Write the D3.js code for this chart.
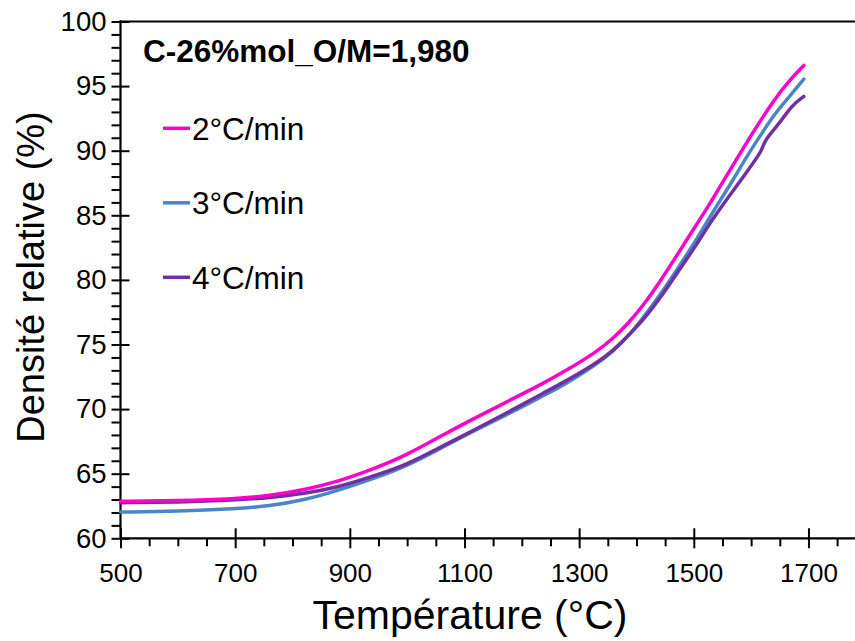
<!DOCTYPE html>
<html>
<head>
<meta charset="utf-8">
<script src="https://cdn.jsdelivr.net/npm/d3@7"></script>
<style>
  html, body { margin: 0; padding: 0; background: #ffffff; }
  svg { display: block; }
  text { font-family: "Liberation Sans", Arial, sans-serif; fill: #000; }
</style>
</head>
<body>
<svg id="chart" width="855" height="641"></svg>
<script>
// ---------------- data ----------------
const seriesNames = ["2°C/min", "3°C/min", "4°C/min"];

const temp2 = [500, 600, 700, 760, 820, 880, 940, 1000, 1060, 1120, 1180, 1240, 1270, 1330, 1360, 1385, 1415, 1443, 1472, 1502, 1531, 1548, 1570, 1600, 1639, 1668, 1692];
const dens2 = [62.86, 62.90, 63.05, 63.30, 63.75, 64.40, 65.35, 66.45, 67.95, 69.35, 70.70, 72.05, 72.80, 74.40, 75.50, 76.60, 78.20, 80.00, 82.00, 84.10, 86.10, 87.40, 89.00, 91.20, 93.90, 95.50, 96.60];

const temp3 = [500, 600, 700, 760, 820, 880, 940, 1000, 1060, 1120, 1180, 1240, 1269, 1327, 1360, 1385, 1414, 1443, 1472, 1502, 1531, 1551, 1572, 1595, 1618, 1641, 1665, 1692];
const dens3 = [62.03, 62.08, 62.28, 62.50, 62.95, 63.70, 64.60, 65.60, 67.00, 68.40, 69.70, 71.10, 71.75, 73.35, 74.50, 75.60, 77.20, 78.95, 80.90, 82.90, 85.10, 86.50, 88.00, 89.75, 91.30, 92.85, 94.10, 95.55];

const temp4 = [500, 600, 700, 760, 820, 880, 940, 1000, 1060, 1120, 1180, 1240, 1270, 1327, 1360, 1385, 1414, 1443, 1472, 1502, 1531, 1560, 1577, 1595, 1612, 1618, 1624, 1641, 1653, 1671, 1692];
const dens4 = [62.76, 62.80, 62.95, 63.15, 63.45, 63.95, 64.80, 65.70, 67.10, 68.45, 69.85, 71.30, 72.00, 73.45, 74.55, 75.65, 77.00, 78.70, 80.60, 82.53, 84.60, 86.40, 87.40, 88.50, 89.60, 90.00, 90.80, 91.70, 92.35, 93.50, 94.20];

const xMajorTicks = [500, 700, 900, 1100, 1300, 1500, 1700];
const yMajorTicks = [60, 65, 70, 75, 80, 85, 90, 95, 100];
const chartTitle = "C-26%mol_O/M=1,980";
const xTitle = "Température (°C)";
const yTitle = "Densité relative (%)";

// ---------------- styles ----------------
const colors = ["#FF00CC", "#4A86C5", "#7030A0"];

// ---------------- layout ----------------
const svg = d3.select("#chart");
svg.append("rect").attr("width", 855).attr("height", 641).attr("fill", "#fff");

const x = d3.scaleLinear().domain([500, 1800]).range([120.5, 120.5 + 1300 * 0.5733]);
const y = d3.scaleLinear().domain([60, 100]).range([538.3, 21.5]);

const x0 = x(500), yBase = y(60), yTop = y(100);

// minor ticks
const xMinor = d3.range(550, 1800, 50).filter(v => (v - 500) % 200 !== 0);
const yMinor = d3.range(61, 100, 1).filter(v => v % 5 !== 0);

const gxMinor = svg.append("g").attr("transform", `translate(0,${yBase})`)
  .call(d3.axisBottom(x).tickValues(xMinor).tickSize(8).tickFormat(""));
gxMinor.select(".domain").remove();

const gyMinor = svg.append("g").attr("transform", `translate(${x0},0)`)
  .call(d3.axisLeft(y).tickValues(yMinor).tickSize(9).tickFormat(""));
gyMinor.select(".domain").remove();

// major ticks (crossing the axis)
const gxMajor = svg.append("g").attr("transform", `translate(0,${yBase - 10})`)
  .call(d3.axisBottom(x).tickValues(xMajorTicks).tickSize(20).tickPadding(15).tickFormat(d3.format("d")));
gxMajor.select(".domain").remove();
gxMajor.selectAll(".tick text").attr("font-size", 26);

const gyMajor = svg.append("g").attr("transform", `translate(${x0 + 9},0)`)
  .call(d3.axisLeft(y).tickValues(yMajorTicks).tickSize(18).tickPadding(5).tickFormat(d3.format("d")));
gyMajor.select(".domain").remove();
gyMajor.selectAll(".tick text").attr("font-size", 27.5);

svg.selectAll(".tick line").attr("stroke", "#000").attr("stroke-width", 2);
svg.selectAll(".tick text").attr("font-family", "Liberation Sans, Arial, sans-serif").attr("fill", "#000");

// axis lines + top border
svg.append("line").attr("x1", x0).attr("x2", 855).attr("y1", yBase).attr("y2", yBase)
  .attr("stroke", "#000").attr("stroke-width", 2.2);
svg.append("line").attr("x1", x0).attr("x2", x0).attr("y1", yTop - 1).attr("y2", yBase + 1)
  .attr("stroke", "#000").attr("stroke-width", 2.2);
svg.append("line").attr("x1", x0 - 1).attr("x2", 855).attr("y1", yTop).attr("y2", yTop)
  .attr("stroke", "#000").attr("stroke-width", 2.2);

// curves
const series = [
  { name: seriesNames[0], t: temp2, d: dens2, color: colors[0] },
  { name: seriesNames[1], t: temp3, d: dens3, color: colors[1] },
  { name: seriesNames[2], t: temp4, d: dens4, color: colors[2] }
];
const line = d3.line().x(p => x(p[0])).y(p => y(p[1])).curve(d3.curveBasis);
const drawOrder = [1, 2, 0];
drawOrder.forEach(i => {
  const s = series[i];
  svg.append("path")
    .datum(s.t.map((t, k) => [t, s.d[k]]))
    .attr("d", line)
    .attr("fill", "none")
    .attr("stroke", s.color)
    .attr("stroke-width", 3.5)
    .attr("stroke-linejoin", "round")
    .attr("stroke-linecap", "round");
});

// title
svg.append("text").attr("x", 143).attr("y", 62)
  .attr("font-size", 31.5).attr("font-weight", "bold").text(chartTitle);

// legend
series.forEach((s, i) => {
  const ly = 128.3 + i * 74.5;
  svg.append("line").attr("x1", 163).attr("x2", 190).attr("y1", ly).attr("y2", ly)
    .attr("stroke", s.color).attr("stroke-width", 3.5);
  svg.append("text").attr("x", 192).attr("y", ly + 11.5)
    .attr("font-size", 31.5).text(s.name);
});

// axis titles
svg.append("text").attr("x", 470).attr("y", 629).attr("text-anchor", "middle")
  .attr("font-size", 41).text(xTitle);
svg.append("text").attr("transform", `translate(44,277) rotate(-90)`).attr("text-anchor", "middle")
  .attr("font-size", 38).text(yTitle);
</script>
</body>
</html>
